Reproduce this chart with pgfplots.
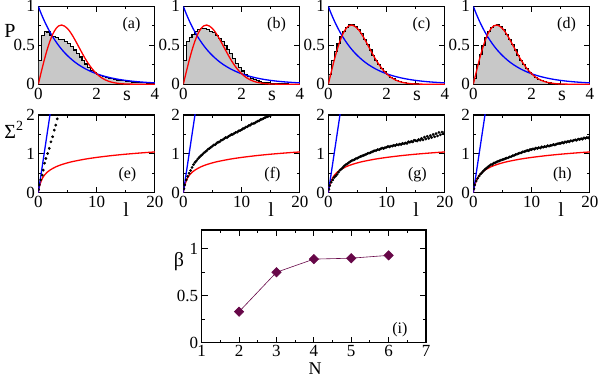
\documentclass[border=0pt]{standalone}
\usepackage{fontspec}
\setmainfont{Liberation Serif}
\usepackage{pgfplots}
\pgfplotsset{compat=1.18}
\definecolor{grmaroon}{RGB}{103,7,72}
\definecolor{histfill}{RGB}{200,200,200}
\pgfplotsset{
  frame/.style={scale only axis, axis line style={line width=1.1pt},
    every tick/.style={black, line width=0.9pt},
    major tick length=6pt, minor tick length=3pt, tick align=inside,
    tick label style={font=\fontsize{17}{19}\selectfont},
    /pgf/number format/assume math mode=true,
    clip mode=individual, clip marker paths=true},
  topP/.style={frame, width=116.5pt, height=78pt,
    xmin=0, xmax=4, ymin=0, ymax=1,
    xtick={0,2,4}, minor xtick={1,3},
    ytick={0,0.5,1}, minor ytick={0.25,0.75}},
  midS/.style={frame, width=116.5pt, height=77.7pt,
    xmin=0, xmax=20, ymin=0, ymax=2,
    xtick={0,10,20}, minor xtick={5,15},
    ytick={0,1,2}, minor ytick={0.5,1.5}},
  hist/.style={const plot, draw=black, line width=1.1pt, fill=histfill},
  poi/.style={blue, line width=1.3pt, smooth},
  wig/.style={red, line width=1.3pt, smooth},
  dots/.style={only marks, mark=*, mark size=1.2pt, black}
}
% Poisson exp(-s) and Wigner surmise, tabulated
\newcommand{\poisson}{\addplot[poi] coordinates {(0,1)(0.1,0.9048)(0.2,0.8187)(0.3,0.7408)(0.4,0.6703)(0.5,0.6065)(0.6,0.5488)(0.7,0.4966)(0.8,0.4493)(0.9,0.4066)(1.0,0.3679)(1.2,0.3012)(1.4,0.2466)(1.6,0.2019)(1.8,0.1653)(2.0,0.1353)(2.25,0.1054)(2.5,0.0821)(2.75,0.0639)(3.0,0.0498)(3.25,0.0388)(3.5,0.0302)(3.75,0.0235)(4.0,0.0183)};}
\newcommand{\wigner}{\addplot[wig] coordinates {(0,0)(0.1,0.1559)(0.2,0.3044)(0.3,0.4391)(0.4,0.5541)(0.5,0.6454)(0.6,0.7104)(0.7,0.7486)(0.8,0.7602)(0.9,0.7462)(1.0,0.7155)(1.1,0.6680)(1.2,0.6088)(1.3,0.5423)(1.4,0.4727)(1.5,0.4036)(1.6,0.3366)(1.7,0.2759)(1.8,0.2220)(1.9,0.1752)(2.0,0.1358)(2.1,0.1033)(2.2,0.0772)(2.3,0.0567)(2.4,0.0409)(2.5,0.0290)(2.6,0.0202)(2.8,0.0093)(3.0,0.0040)(3.5,0.0003)(4.0,0)};}
\newcommand{\goe}{\addplot[wig] coordinates {(0,0)(0.05,0.05)(0.1,0.09)(0.2,0.16)(0.3,0.21)(0.5,0.30)(0.75,0.384)(1,0.442)(1.5,0.524)(2,0.582)(3,0.665)(4,0.723)(5,0.768)(6,0.805)(8,0.863)(10,0.908)(12,0.945)(14,0.977)(16,1.004)(18,1.028)(20,1.049)};
  \addplot[blue, line width=1.3pt] coordinates {(0,0)(2.1,2.1)};}
\newcommand{\slab}[1]{\node[font=\fontsize{20}{22}\selectfont, anchor=base] at (axis cs:3.05,0) [yshift=-16pt] {s};
  \node[font=\fontsize{16}{18}\selectfont] at (axis cs:3.2,0.76) {(#1)};}
\newcommand{\llab}[1]{\node[font=\fontsize{20}{22}\selectfont, anchor=base] at (axis cs:15.1,0) [yshift=-24pt] {l};
  \node[font=\fontsize{16}{18}\selectfont] at (axis cs:15.3,0.47) {(#1)};}
\begin{document}
\begin{tikzpicture}
\path[use as bounding box] (0,0) rectangle (599pt,378pt);
% ---- row 1: spacing distributions
\begin{axis}[topP, at={(38.3pt,293.7pt)}]
\addplot[hist] coordinates {(0,0.30)(0.1,0.62)(0.2,0.68)(0.3,0.67)(0.4,0.63)(0.5,0.61)(0.6,0.60)(0.7,0.58)(0.8,0.57)(0.9,0.55)(1.0,0.52)(1.1,0.48)(1.2,0.44)(1.3,0.40)(1.4,0.35)(1.5,0.30)(1.6,0.26)(1.7,0.22)(1.8,0.18)(1.9,0.15)(2.0,0.13)(2.1,0.11)(2.2,0.10)(2.3,0.09)(2.4,0.08)(2.5,0.07)(2.6,0.06)(2.7,0.055)(2.8,0.05)(2.9,0.045)(3.0,0.04)(3.1,0.035)(3.2,0.03)(3.3,0.028)(3.4,0.025)(3.5,0.02)(3.6,0.018)(3.7,0.015)(3.8,0.012)(3.9,0.01)(4.0,0.01)} \closedcycle;
\poisson \wigner \slab{a}
\end{axis}
\begin{axis}[topP, at={(183.3pt,293.7pt)}]
\addplot[hist] coordinates {(0,0.30)(0.1,0.55)(0.2,0.60)(0.3,0.64)(0.4,0.68)(0.5,0.70)(0.6,0.71)(0.7,0.71)(0.8,0.70)(0.9,0.68)(1.0,0.66)(1.1,0.63)(1.2,0.59)(1.3,0.55)(1.4,0.50)(1.5,0.45)(1.6,0.39)(1.7,0.33)(1.8,0.27)(1.9,0.22)(2.0,0.17)(2.1,0.13)(2.2,0.10)(2.3,0.08)(2.4,0.06)(2.5,0.045)(2.6,0.035)(2.7,0.028)(2.8,0.022)(2.9,0.018)(3.0,0.014)(3.1,0.011)(3.2,0.009)(3.3,0.007)(3.4,0.005)(3.5,0.004)(3.6,0.003)(3.7,0.002)(3.8,0.002)(3.9,0.001)(4.0,0.001)} \closedcycle;
\poisson \wigner \slab{b}
\end{axis}
\begin{axis}[topP, at={(328.3pt,293.7pt)}]
\addplot[hist] coordinates {(0,0.12)(0.1,0.30)(0.2,0.42)(0.3,0.52)(0.4,0.61)(0.5,0.68)(0.6,0.73)(0.7,0.76)(0.8,0.77)(0.9,0.74)(1.0,0.70)(1.1,0.65)(1.2,0.58)(1.3,0.51)(1.4,0.44)(1.5,0.37)(1.6,0.31)(1.7,0.25)(1.8,0.20)(1.9,0.16)(2.0,0.12)(2.1,0.09)(2.2,0.07)(2.3,0.05)(2.4,0.035)(2.5,0.025)(2.6,0.018)(2.7,0.012)(2.8,0.008)(2.9,0.005)(3.0,0.004)(3.1,0.003)(3.2,0.002)(3.3,0.001)(3.4,0)(4.0,0)} \closedcycle;
\poisson \wigner \slab{c}
\end{axis}
\begin{axis}[topP, at={(473.3pt,293.7pt)}]
\addplot[hist] coordinates {(0,0.08)(0.1,0.25)(0.2,0.38)(0.3,0.50)(0.4,0.60)(0.5,0.68)(0.6,0.73)(0.7,0.75)(0.8,0.76)(0.9,0.74)(1.0,0.70)(1.1,0.64)(1.2,0.58)(1.3,0.51)(1.4,0.44)(1.5,0.37)(1.6,0.31)(1.7,0.25)(1.8,0.20)(1.9,0.155)(2.0,0.12)(2.1,0.09)(2.2,0.066)(2.3,0.048)(2.4,0.034)(2.5,0.024)(2.6,0.017)(2.7,0.011)(2.8,0.008)(2.9,0.005)(3.0,0.003)(3.1,0.002)(3.2,0.001)(3.3,0)(4.0,0)} \closedcycle;
\poisson \wigner \slab{d}
\end{axis}
% ---- row 2: number variance
\begin{axis}[midS, at={(38.3pt,185.3pt)}]
\goe
\addplot[dots] coordinates {(0.05,0.08)(0.17,0.2)(0.4,0.33)(0.68,0.45)(0.85,0.58)(1.08,0.76)(1.31,0.88)(1.6,1.01)(1.88,1.14)(2.17,1.31)(2.45,1.44)(2.74,1.61)(3.0,1.74)(3.25,1.90)};
\llab{e}
\end{axis}
\begin{axis}[midS, at={(183.3pt,185.3pt)}]
\goe
\addplot[dots] coordinates {(0.1,0.1)(0.25,0.2)(0.5,0.33)(0.75,0.42)(1.0,0.50)(1.25,0.57)(1.5,0.65)(1.75,0.72)(2.0,0.78)(2.25,0.82)(2.5,0.87)(2.75,0.91)(3.0,0.95)(3.25,0.98)(3.5,1.02)(3.75,1.05)(4.0,1.08)(4.25,1.12)(4.5,1.14)(4.75,1.17)(5.0,1.20)(5.25,1.23)(5.5,1.24)(5.75,1.28)(6.0,1.30)(6.25,1.31)(6.5,1.35)(6.75,1.36)(7.0,1.39)(7.25,1.42)(7.5,1.42)(7.75,1.45)(8.0,1.47)(8.25,1.50)(8.5,1.50)(8.75,1.53)(9.0,1.55)(9.25,1.56)(9.5,1.59)(9.75,1.60)(10.0,1.62)(10.25,1.65)(10.5,1.66)(10.75,1.69)(11.0,1.70)(11.25,1.73)(11.5,1.74)(11.75,1.77)(12.0,1.78)(12.25,1.79)(12.5,1.82)(12.75,1.84)(13.0,1.85)(13.25,1.88)(13.5,1.89)(13.75,1.91)(14.0,1.93)(14.25,1.95)(14.5,1.96)(14.75,1.98)(15.0,1.99)};
\llab{f}
\end{axis}
\begin{axis}[midS, at={(328.3pt,185.3pt)}]
\goe
\addplot[dots] coordinates {(0.1,0.09)(0.25,0.18)(0.5,0.27)(0.75,0.33)(1.0,0.39)(1.25,0.43)(1.5,0.47)(1.75,0.53)(2.0,0.58)(2.25,0.61)(2.5,0.65)(2.75,0.69)(3.0,0.72)(3.25,0.74)(3.5,0.77)(3.75,0.80)(4.0,0.82)(4.25,0.84)(4.5,0.85)(4.75,0.88)(5.0,0.89)(5.25,0.91)(5.5,0.93)(5.75,0.94)(6.0,0.96)(6.25,0.97)(6.5,0.99)(6.75,1.01)(7.0,1.02)(7.25,1.03)(7.5,1.05)(7.75,1.07)(8.0,1.08)(8.25,1.09)(8.5,1.11)(8.75,1.11)(9.0,1.13)(9.25,1.15)(9.5,1.14)(9.75,1.16)(10.0,1.17)(10.25,1.19)(10.5,1.18)(10.75,1.20)(11.0,1.20)(11.25,1.22)(11.5,1.21)(11.75,1.24)(12.0,1.23)(12.25,1.25)(12.5,1.24)(12.75,1.27)(13.0,1.26)(13.25,1.28)(13.5,1.27)(13.75,1.31)(14.0,1.30)(14.25,1.32)(14.5,1.31)(14.75,1.35)(15.0,1.34)(15.25,1.33)(15.5,1.37)(15.75,1.35)(16.0,1.40)(16.25,1.36)(16.5,1.43)(16.75,1.38)(17.0,1.45)(17.25,1.40)(17.5,1.47)(17.75,1.42)(18.0,1.50)(18.25,1.44)(18.5,1.52)(18.75,1.46)(19.0,1.55)(19.25,1.49)(19.5,1.56)(19.75,1.52)(20.0,1.57)};
\llab{g}
\end{axis}
\begin{axis}[midS, at={(473.3pt,185.3pt)}]
\goe
\addplot[dots] coordinates {(0.1,0.10)(0.25,0.20)(0.5,0.30)(0.75,0.37)(1.0,0.43)(1.25,0.48)(1.5,0.52)(1.75,0.56)(2.0,0.60)(2.25,0.63)(2.5,0.66)(2.75,0.69)(3.0,0.72)(3.25,0.73)(3.5,0.76)(3.75,0.77)(4.0,0.79)(4.25,0.81)(4.5,0.82)(4.75,0.84)(5.0,0.85)(5.25,0.86)(5.5,0.88)(5.75,0.89)(6.0,0.90)(6.25,0.92)(6.5,0.93)(6.75,0.95)(7.0,0.96)(7.25,0.98)(7.5,0.99)(7.75,1.01)(8.0,1.02)(8.25,1.03)(8.5,1.05)(8.75,1.06)(9.0,1.07)(9.25,1.09)(9.5,1.08)(9.75,1.11)(10.0,1.11)(10.25,1.13)(10.5,1.12)(10.75,1.15)(11.0,1.14)(11.25,1.16)(11.5,1.15)(11.75,1.18)(12.0,1.17)(12.25,1.19)(12.5,1.18)(12.75,1.21)(13.0,1.20)(13.25,1.22)(13.5,1.22)(13.75,1.24)(14.0,1.23)(14.25,1.25)(14.5,1.26)(14.75,1.27)(15.0,1.27)(15.25,1.29)(15.5,1.28)(15.75,1.31)(16.0,1.30)(16.25,1.32)(16.5,1.31)(16.75,1.34)(17.0,1.33)(17.25,1.35)(17.5,1.36)(17.75,1.35)(18.0,1.38)(18.25,1.37)(18.5,1.39)(18.75,1.38)(19.0,1.41)(19.25,1.40)(19.5,1.42)(19.75,1.41)(20.0,1.44)};
\llab{h}
\end{axis}
% ---- row 3: Brody parameter
\begin{axis}[frame, at={(201.7pt,35.3pt)}, width=224.3pt, height=112.7pt,
  xmin=1, xmax=7, ymin=0, ymax=1.2,
  xtick={1,2,...,7}, minor xtick={1.5,2.5,...,6.5},
  ytick={0,0.5,1}, minor ytick={0.25,0.75},
  xticklabel style={inner sep=1pt, yshift=-1pt}]
\addplot[grmaroon, line width=0.6pt, mark=square*, mark size=3.3pt,
  mark options={rotate=45, fill=grmaroon}] coordinates {(2,0.33)(3,0.75)(4,0.89)(5,0.90)(6,0.93)};
\node[font=\fontsize{16}{18}\selectfont] at (axis cs:6.3,0.14) {(i)};
\end{axis}
\node[font=\fontsize{20}{22}\selectfont] at (10pt,347pt) {P};
\node[font=\fontsize{20}{22}\selectfont] at (14pt,248pt) {Σ\textsuperscript{2}};
\node[font=\fontsize{20}{22}\selectfont] at (179pt,116pt) {β};
\node[font=\fontsize{18}{20}\selectfont, inner sep=0pt, anchor=base] at (315pt,4pt) {N};
\end{tikzpicture}
\end{document}
